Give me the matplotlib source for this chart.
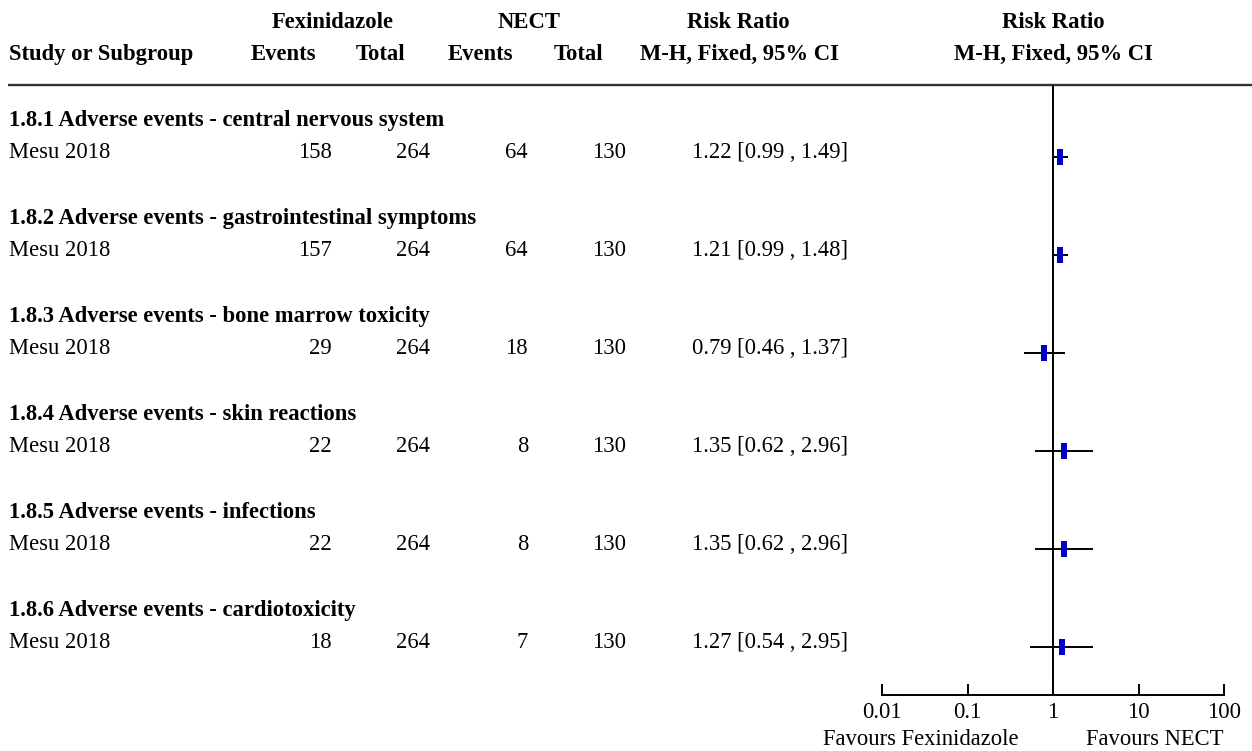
import matplotlib
matplotlib.use("Agg")
import matplotlib.pyplot as plt
from matplotlib.path import Path
import numpy as np

plt.rcParams['font.family'] = ['Liberation Serif', 'DejaVu Serif']

# ---- data ----
subgroups = [
    "1.8.1 Adverse events - central nervous system",
    "1.8.2 Adverse events - gastrointestinal symptoms",
    "1.8.3 Adverse events - bone marrow toxicity",
    "1.8.4 Adverse events - skin reactions",
    "1.8.5 Adverse events - infections",
    "1.8.6 Adverse events - cardiotoxicity",
]
studies = ["Mesu 2018"] * 6
fex_events = [158, 157, 29, 22, 22, 18]
fex_total = [264, 264, 264, 264, 264, 264]
nect_events = [64, 64, 18, 8, 8, 7]
nect_total = [130, 130, 130, 130, 130, 130]
rr = [1.22, 1.21, 0.79, 1.35, 1.35, 1.27]
ci_low = [0.99, 0.99, 0.46, 0.62, 0.62, 0.54]
ci_high = [1.49, 1.48, 1.37, 2.96, 2.96, 2.95]
tick_values = [0.01, 0.1, 1, 10, 100]
tick_labels = ["0.01", "0.1", "1", "10", "100"]
left_label = "Favours Fexinidazole"
right_label = "Favours NECT"

W, H = 1252, 751
FS = 16.3
fig = plt.figure(figsize=(W / 100, H / 100), dpi=100)

# text layer in pixel coordinates
tx = fig.add_axes([0, 0, 1, 1])
tx.set_xlim(0, W)
tx.set_ylim(H, 0)
tx.axis('off')

def t(x, y, s, ha='left', bold=False):
    tx.text(x, y, s, ha=ha, va='baseline', fontsize=FS,
            fontweight='bold' if bold else 'normal', color='black')

# headers
t(333, 28, "Fexinidazole", 'center', True)
t(529, 28, "NECT", 'center', True)
t(738, 28, "Risk Ratio", 'center', True)
t(1053, 28, "Risk Ratio", 'center', True)
t(9, 60, "Study or Subgroup", 'left', True)
t(283, 60, "Events", 'center', True)
t(381, 60, "Total", 'center', True)
t(480, 60, "Events", 'center', True)
t(578, 60, "Total", 'center', True)
t(739, 60, "M-H, Fixed, 95% CI", 'center', True)
t(1053, 60, "M-H, Fixed, 95% CI", 'center', True)
tx.plot([8, W], [85, 85], color='#333333', lw=1.7, solid_capstyle='butt')

step = 98
for i in range(len(subgroups)):
    yh = 126 + step * i
    ys = 158 + step * i
    t(9, yh, subgroups[i], 'left', True)
    t(9, ys, studies[i])
    t(332, ys, str(fex_events[i]), 'right')
    t(430, ys, str(fex_total[i]), 'right')
    t(528, ys, str(nect_events[i]), 'right')
    t(626, ys, str(nect_total[i]), 'right')
    t(770, ys, f"{rr[i]:.2f} [{ci_low[i]:.2f} , {ci_high[i]:.2f}]", 'center')

t(921, 745, left_label, 'center')
t(1155, 745, right_label, 'center')

# forest axis
x0, x1 = 882, 1224
ytop, ybot = 85, 695
ax = fig.add_axes([x0 / W, (H - ybot) / H, (x1 - x0) / W, (ybot - ytop) / H])
ax.set_xscale('log')
ax.set_xlim(0.01, 100)
ax.set_ylim(ybot, ytop)
ax.patch.set_alpha(0)
for s in ['top', 'right', 'left']:
    ax.spines[s].set_visible(False)
ax.spines['bottom'].set_linewidth(1.4)
ax.set_yticks([])
ax.set_xticks(tick_values)
ax.set_xticklabels(tick_labels, fontsize=FS)
ax.xaxis.set_minor_locator(matplotlib.ticker.NullLocator())
ax.tick_params(axis='x', direction='in', length=8, width=1.4, pad=5)
ax.axvline(1, color='black', lw=1.4)

rect = Path([(-1/3, -1), (1/3, -1), (1/3, 1), (-1/3, 1), (-1/3, -1)],
            [Path.MOVETO, Path.LINETO, Path.LINETO, Path.LINETO, Path.CLOSEPOLY])
for i in range(len(rr)):
    y = 156.5 + step * i
    ax.plot([ci_low[i], ci_high[i]], [y, y], color='black', lw=1.4, solid_capstyle='butt')
    ax.plot([rr[i]], [y], marker=rect, markersize=11, color='#0000C8',
            markeredgewidth=0, linestyle='none')

fig.savefig("out.png", dpi=100)
